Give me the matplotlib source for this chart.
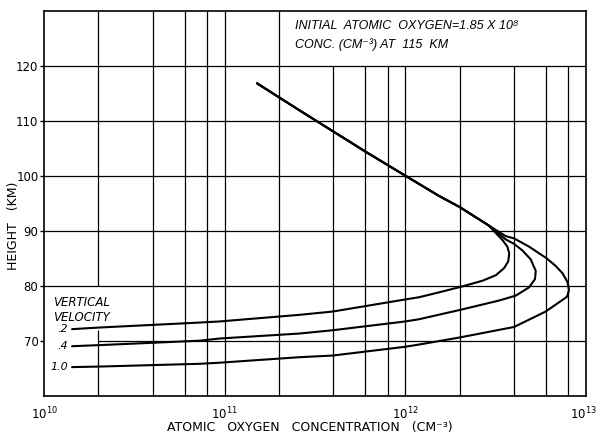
import matplotlib
matplotlib.use("Agg")
import matplotlib.pyplot as plt
from matplotlib import transforms

# ---- data ----
# shared upper branch (all three velocities coincide above ~91 km)
shared_conc = [1.51e11, 2.59e11, 6.07e11, 1.00e12, 1.54e12, 2.00e12, 2.36e12, 2.88e12]
shared_h = [116.8, 111.9, 104.3, 100.0, 96.3, 94.3, 92.8, 91.0]

v02_conc = [3.45e12, 3.67e12, 3.76e12, 3.71e12, 3.52e12, 3.17e12, 2.67e12, 2.03e12,
            1.54e12, 1.19e12, 1.00e12, 3.96e11, 2.59e11, 9.38e10, 7.28e10, 2.04e10, 1.43e10]
v02_h = [88.3, 87.1, 85.9, 84.4, 83.2, 81.9, 80.9, 79.8,
         78.8, 77.9, 77.5, 75.3, 74.7, 73.5, 73.3, 72.4, 72.1]

v04_conc = [3.60e12, 4.00e12, 4.45e12, 4.94e12, 5.27e12, 5.22e12, 4.84e12, 4.09e12,
            3.30e12, 2.01e12, 1.19e12, 1.00e12, 3.96e11, 2.59e11, 9.38e10, 7.28e10, 2.04e10, 1.43e10]
v04_h = [88.4, 87.6, 86.4, 84.8, 82.7, 81.2, 79.7, 78.2,
         77.3, 75.6, 73.9, 73.5, 71.9, 71.3, 70.4, 70.0, 69.2, 69.0]

v10_conc = [3.60e12, 4.00e12, 4.84e12, 6.04e12, 6.79e12, 7.40e12, 7.89e12, 8.05e12, 7.85e12,
            7.40e12, 5.98e12, 4.00e12, 2.01e12, 1.19e12, 1.00e12, 3.96e11, 2.59e11, 9.38e10,
            7.28e10, 2.04e10, 1.43e10]
v10_h = [89.0, 88.6, 87.1, 85.0, 83.6, 82.3, 80.7, 79.2, 78.0,
         77.4, 75.3, 72.5, 70.6, 69.3, 68.9, 67.3, 67.0, 66.0,
         65.8, 65.3, 65.2]

velocity_labels = [".2", ".4", "1.0"]
height_ticks = [70, 80, 90, 100, 110, 120]
decade_ticks = [1e10, 1e11, 1e12, 1e13]
decade_labels = ["$10^{10}$", "$10^{11}$", "$10^{12}$", "$10^{13}$"]

# ---- figure ----
plt.rcParams['mathtext.fontset'] = 'dejavusans'
plt.rcParams['font.family'] = ['DejaVu Sans']
fig = plt.figure(figsize=(5.97, 4.34), dpi=100)
ax = fig.add_axes([44/597, 1-395.7/434, (586-44)/597, (395.7-10.7)/434])
ax.set_xscale('log')
ax.set_xlim(1e10, 1e13)
ax.set_ylim(60, 130)

gl = dict(color='black', lw=0.9, zorder=1)
# horizontal grid
for h in height_ticks:
    x0 = 2e10 if h == 70 else 1e10
    ax.hlines(h, x0, 1e13, **gl)
# vertical grid
grid_x = []
for d in [1e10, 1e11, 1e12]:
    for m in [2, 4, 6, 8, 10]:
        grid_x.append(m * d)
grid_x = grid_x[:-1]
for gx in grid_x:
    if gx == 2e10:
        ax.vlines(gx, 60, 72, **gl)
        ax.vlines(gx, 80, 130, **gl)
    elif gx > 2.1e11:
        ax.vlines(gx, 60, 120, **gl)
    else:
        ax.vlines(gx, 60, 130, **gl)

# curves
cl = dict(color='black', lw=1.5, zorder=3, solid_capstyle='round', solid_joinstyle='round')
for conc, hh in [(v02_conc, v02_h), (v04_conc, v04_h), (v10_conc, v10_h)]:
    ax.plot(shared_conc + conc, shared_h + hh, **cl)

# velocity labels
for lab, conc, hh in zip(velocity_labels, [v02_conc, v04_conc, v10_conc], [v02_h, v04_h, v10_h]):
    ax.text(conc[-1] * 0.95, hh[-1], lab, ha='right', va='center',
            fontsize=8, fontstyle='italic')
ax.text(1.12e10, 77.0, "VERTICAL", ha='left', va='center', fontsize=8.5,
        fontstyle='italic')
ax.text(1.12e10, 74.3, "VELOCITY", ha='left', va='center', fontsize=8.5,
        fontstyle='italic')

# header box text
hdr = dict(ha='left', va='center', fontsize=9, fontstyle='italic',
           family=['Liberation Sans', 'DejaVu Sans'])
ax.text(2.44e11, 127.2, "INITIAL  ATOMIC  OXYGEN=1.85 X 10⁸", **hdr)
ax.text(2.44e11, 123.8, "CONC. (CM⁻³) AT  115  KM", **hdr)

# axes styling
for s in ax.spines.values():
    s.set_linewidth(1.2)
ax.set_yticks(height_ticks)
ax.set_yticklabels([str(t) for t in height_ticks], fontsize=8.5)
ax.set_xticks(decade_ticks)
ax.set_xticklabels(decade_labels, fontsize=8.5)
ax.xaxis.set_minor_locator(matplotlib.ticker.NullLocator())
ax.tick_params(axis='x', length=0, pad=7)
ax.tick_params(axis='y', length=3, width=1, pad=1)
# nudge last x label inside the canvas
last = ax.get_xticklabels()[-1]
last.set_transform(last.get_transform() + transforms.ScaledTranslation(-3/100, 0, fig.dpi_scale_trans))

ax.set_xlabel("ATOMIC   OXYGEN   CONCENTRATION   (CM⁻³)", fontsize=9)
ax.xaxis.set_label_coords((310-44)/542, (395.7-428)/385)
ax.xaxis.label.set_va('center')
ax.set_ylabel("HEIGHT   (KM)", fontsize=9)
ax.yaxis.set_label_coords((14-44)/542, (395.7-226)/385)
ax.yaxis.label.set_va('center')

fig.savefig("out.png", dpi=100)
